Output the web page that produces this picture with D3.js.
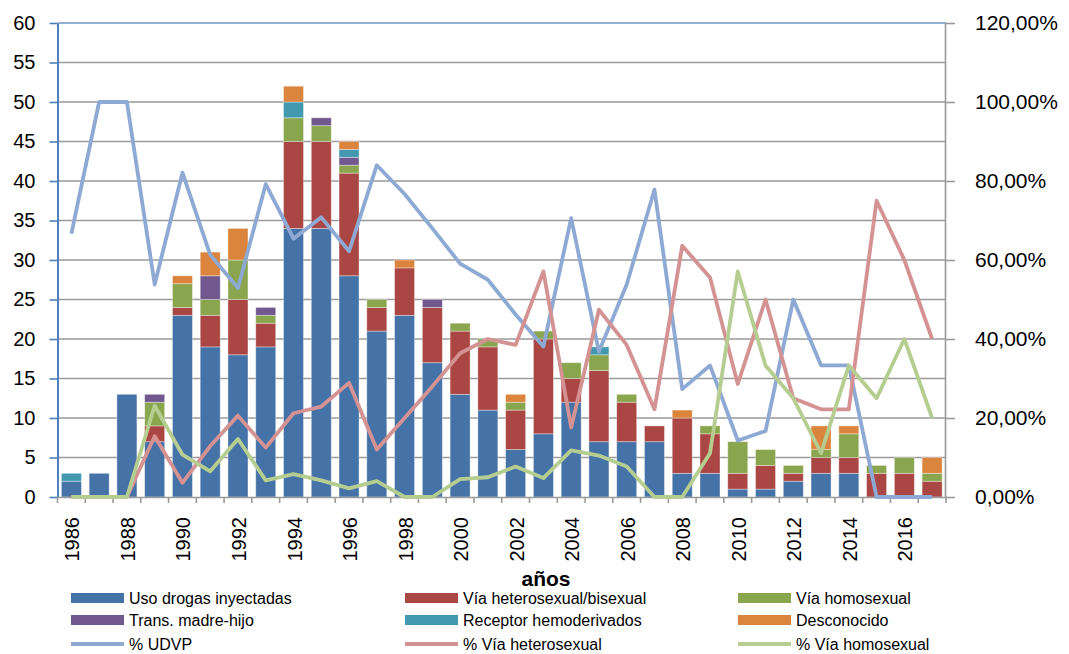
<!DOCTYPE html>
<html>
<head>
<meta charset="utf-8">
<script src="https://cdn.jsdelivr.net/npm/d3@7"></script>
<style>
  body { margin: 0; background: #fff; }
  text { font-family: "Liberation Sans", Arial, sans-serif; }
</style>
</head>
<body>
<div id="wrapper"></div>
<script>
// datos
const years = [1986,1987,1988,1989,1990,1991,1992,1993,1994,1995,1996,1997,1998,1999,2000,2001,
               2002,2003,2004,2005,2006,2007,2008,2009,2010,2011,2012,2013,2014,2015,2016,2017];
const udi   = [2,3,13,7,23,19,18,19,34,34,28,21,23,17,13,11,6,8,12,7,7,7,3,3,1,1,2,3,3,0,0,0];
const het   = [0,0,0,2,1,4,7,3,11,11,13,3,6,7,8,8,5,12,3,9,5,2,7,5,2,3,1,2,2,3,3,2];
const homo  = [0,0,0,3,3,2,5,1,3,2,1,1,0,0,1,1,1,1,2,2,1,0,0,1,4,2,1,1,3,1,2,1];
const madre = [0,0,0,1,0,3,0,1,0,1,1,0,0,1,0,0,0,0,0,0,0,0,0,0,0,0,0,0,0,0,0,0];
const hemo  = [1,0,0,0,0,0,0,0,2,0,1,0,0,0,0,0,0,0,0,1,0,0,0,0,0,0,0,0,0,0,0,0];
const desc  = [0,0,0,0,1,3,4,0,2,0,1,0,1,0,0,0,1,0,0,0,0,0,1,0,0,0,0,3,1,0,0,2];

const pUdvp = [66.7,100,100,53.8,82.1,61.3,52.9,79.2,65.4,70.8,62.2,84,76.7,68,59.1,55,
               46.2,38.1,70.6,36.8,53.8,77.8,27.3,33.3,14.3,16.7,50,33.3,33.3,0,0,0];
const pHet  = [0,0,0,15.4,3.6,12.9,20.6,12.5,21.2,22.9,28.9,12,20,28,36.4,40,
               38.5,57.1,17.6,47.4,38.5,22.2,63.6,55.6,28.6,50,25,22.2,22.2,75,60,40];
const pHomo = [0,0,0,23.1,10.7,6.5,14.7,4.2,5.8,4.2,2.2,4,0,0,4.5,5,
               7.7,4.8,11.8,10.5,7.7,0,0,11.1,57.1,33.3,25,11.1,33.3,25,40,20];

const barKeys   = ["Uso drogas inyectadas","Vía heterosexual/bisexual","Vía homosexual",
                   "Trans. madre-hijo","Receptor hemoderivados","Desconocido"];
const barSeries = [udi, het, homo, madre, hemo, desc];
const barColors = ["#4572A7","#AA4643","#89A54E","#71588F","#4198AF","#DB843D"];
const lineKeys   = ["% UDVP","% Vía heterosexual","% Vía homosexual"];
const lineSeries = [pUdvp, pHet, pHomo];
const lineColors = ["#8EA9D3","#D49292","#B6CD91"];

const width = 1069, height = 654;
const dim = { left: 57.5, right: 946, top: 23, bottom: 497 };

const svg = d3.select("#wrapper").append("svg")
    .attr("width", width).attr("height", height);

const table = years.map((y, i) => {
    const row = { year: y };
    barKeys.forEach((k, j) => row[k] = barSeries[j][i]);
    return row;
});

const x = d3.scaleBand().domain(years)
    .range([dim.left, dim.right]).paddingInner(0.28).paddingOuter(0.14);
const yL = d3.scaleLinear().domain([0, 60]).range([dim.bottom, dim.top]);
const yR = d3.scaleLinear().domain([0, 120]).range([dim.bottom, dim.top]);
const cx = d => x(d) + x.bandwidth() / 2;

// rejilla
svg.append("g").selectAll("line")
    .data(d3.range(5, 60, 5))
    .enter().append("line")
    .attr("x1", dim.left).attr("x2", dim.right)
    .attr("y1", d => yL(d)).attr("y2", d => yL(d))
    .attr("stroke", "#9a9a9a").attr("stroke-width", 1.6);
svg.append("line")
    .attr("x1", dim.left).attr("x2", dim.right)
    .attr("y1", yL(60)).attr("y2", yL(60))
    .attr("stroke", "#6f95c8").attr("stroke-width", 1.4);

// barras apiladas
const stacked = d3.stack().keys(barKeys)(table);
svg.append("g").selectAll("g")
    .data(stacked)
    .enter().append("g")
    .attr("fill", (d, i) => barColors[i])
    .selectAll("rect")
    .data(d => d.filter(s => s[1] > s[0]))
    .enter().append("rect")
    .attr("x", d => x(d.data.year))
    .attr("width", x.bandwidth())
    .attr("y", d => yL(d[1]))
    .attr("height", d => yL(d[0]) - yL(d[1]))
    .attr("stroke", "rgba(255,255,255,0.45)")
    .attr("stroke-width", 0.8);

// eje izquierdo
const yAxis = svg.append("g")
    .attr("transform", `translate(${dim.left},0)`)
    .call(d3.axisLeft(yL).tickValues(d3.range(0, 61, 5)).tickSize(8).tickSizeOuter(0).tickPadding(14));
yAxis.select(".domain").attr("stroke", "#4F81BD").attr("stroke-width", 2);
yAxis.selectAll(".tick line").attr("stroke", "#4F81BD").attr("stroke-width", 1.6);
yAxis.selectAll(".tick text").style("font-size", "20px").attr("fill", "#000");

// eje derecho
const rAxis = svg.append("g")
    .attr("transform", `translate(${dim.right - 1},0)`)
    .call(d3.axisRight(yR).tickValues(d3.range(0, 121, 20)).tickSize(10).tickSizeOuter(0).tickPadding(20)
        .tickFormat(d => d.toFixed(2).replace(".", ",") + "%"));
rAxis.select(".domain").attr("stroke", "#9a9a9a").attr("stroke-width", 1.6);
rAxis.selectAll(".tick line").attr("stroke", "#9a9a9a").attr("stroke-width", 1.6);
rAxis.selectAll(".tick text").style("font-size", "21px").attr("fill", "#000");

// eje inferior
const xAxis = svg.append("g")
    .attr("transform", `translate(0,${dim.bottom})`)
    .call(d3.axisBottom(x).tickSize(0).tickSizeOuter(0)
        .tickValues(years.filter((d, i) => i % 2 === 0)));
xAxis.select(".domain").attr("stroke", "#9a9a9a").attr("stroke-width", 1.6);
xAxis.selectAll(".tick text")
    .style("font-size", "20px").attr("fill", "#000")
    .attr("text-anchor", "end")
    .attr("transform", "rotate(-90)")
    .attr("x", -20).attr("y", 0).attr("dy", "0.4em");
const step = x.step();
svg.append("g").selectAll("line")
    .data(years.concat([null]))
    .enter().append("line")
    .attr("x1", (d, i) => dim.left + i * step)
    .attr("x2", (d, i) => dim.left + i * step)
    .attr("y1", dim.bottom).attr("y2", dim.bottom + 6)
    .attr("stroke", "#9a9a9a").attr("stroke-width", 1.6);

// lineas de porcentaje
const line = d3.line().x((d, i) => cx(years[i])).y(d => yR(d));
lineSeries.forEach((s, i) => {
    svg.append("path")
        .datum(s)
        .attr("d", line)
        .attr("fill", "none")
        .attr("stroke", lineColors[i])
        .attr("stroke-width", 3.8)
        .attr("stroke-linejoin", "round");
});

svg.append("text")
    .attr("x", 546).attr("y", 586)
    .attr("text-anchor", "middle")
    .style("font-size", "21px").style("font-weight", "bold")
    .text("años");

// leyenda
const colX = [71, 405, 738];
const rowY = [598, 620, 644];
const legend = svg.append("g");
barKeys.forEach((k, i) => {
    const gx = colX[i % 3], gy = rowY[Math.floor(i / 3)];
    legend.append("rect")
        .attr("x", gx).attr("y", gy - 5).attr("width", 53).attr("height", 10)
        .attr("fill", barColors[i]);
    legend.append("text")
        .attr("x", gx + 58).attr("y", gy).attr("dy", "0.36em")
        .style("font-size", "16px").text(k);
});
lineKeys.forEach((k, i) => {
    const gx = colX[i], gy = rowY[2];
    legend.append("line")
        .attr("x1", gx).attr("x2", gx + 53).attr("y1", gy).attr("y2", gy)
        .attr("stroke", lineColors[i]).attr("stroke-width", 4);
    legend.append("text")
        .attr("x", gx + 58).attr("y", gy).attr("dy", "0.36em")
        .style("font-size", "16px").text(k);
});
</script>
</body>
</html>
